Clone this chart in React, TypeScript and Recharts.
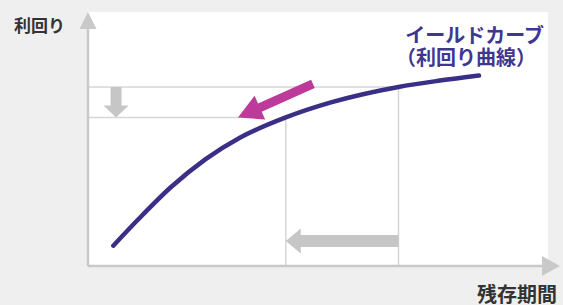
import { CartesianGrid, Line, LineChart, ReferenceLine, XAxis, YAxis } from "recharts";

// yield curve (x: remaining term, y: yield, both 0-100)
const term = [5.5, 11, 18, 25.5, 33, 43, 53, 67.5, 76.5, 85];
const yieldRate = [8, 18.5, 31, 42, 50.5, 58.5, 64.5, 70.5, 73, 75];

// the two marked points on the curve
const shortPoint = { x: 43, y: 58.5 };
const longPoint = { x: 67.5, y: 70.5 };

const data = term.map((t, i) => ({ term: t, rate: yieldRate[i] }));

const AXIS = "#c9c9c9";
const GUIDE = "#d6d6d6";
const CURVE = "#3a2f86";
const PINK = "#bd3a9b";
const FONT = '"Noto Sans CJK JP", "Noto Sans", sans-serif';

function arrow(shaft: number, headLen: number, headW: number, color: string) {
  return (p: any) => {
    const { x1, y1, x2, y2 } = p;
    const len = Math.hypot(x2 - x1, y2 - y1) || 1;
    const ux = (x2 - x1) / len;
    const uy = (y2 - y1) / len;
    const nx = -uy;
    const ny = ux;
    const bx = x2 - ux * headLen;
    const by = y2 - uy * headLen;
    const pts = [
      [x1 + (nx * shaft) / 2, y1 + (ny * shaft) / 2],
      [bx + (nx * shaft) / 2, by + (ny * shaft) / 2],
      [bx + (nx * headW) / 2, by + (ny * headW) / 2],
      [x2, y2],
      [bx - (nx * headW) / 2, by - (ny * headW) / 2],
      [bx - (nx * shaft) / 2, by - (ny * shaft) / 2],
      [x1 - (nx * shaft) / 2, y1 - (ny * shaft) / 2],
    ];
    return <polygon points={pts.map((q) => q.join(",")).join(" ")} fill={color} />;
  };
}

const curveTitle = {
  position: "absolute" as const,
  right: 19,
  fontSize: 20,
  fontWeight: 700,
  color: "#3f3690",
  lineHeight: "21px",
  whiteSpace: "nowrap" as const,
};

export default function App() {
  return (
    <div
      style={{
        position: "absolute",
        left: 0,
        top: 0,
        width: 563,
        height: 305,
        background: "#efefef",
        overflow: "hidden",
        fontFamily: FONT,
      }}
    >
      <LineChart
        width={563}
        height={305}
        data={data}
        margin={{ top: 12, right: 15, bottom: 39, left: 88 }}
      >
        <CartesianGrid fill="#ffffff" stroke="none" horizontal={false} vertical={false} />
        <XAxis type="number" dataKey="term" domain={[0, 100]} hide />
        <YAxis type="number" domain={[0, 100]} hide />

        {/* guide lines */}
        <ReferenceLine
          segment={[{ x: 0, y: longPoint.y }, { x: longPoint.x, y: longPoint.y }]}
          stroke={GUIDE}
          strokeWidth={1.5}
        />
        <ReferenceLine
          segment={[{ x: 0, y: shortPoint.y }, { x: 33, y: shortPoint.y }]}
          stroke={GUIDE}
          strokeWidth={1.5}
        />
        <ReferenceLine
          segment={[{ x: shortPoint.x, y: 0 }, { x: shortPoint.x, y: shortPoint.y }]}
          stroke={GUIDE}
          strokeWidth={1.5}
        />
        <ReferenceLine
          segment={[{ x: longPoint.x, y: 0 }, { x: longPoint.x, y: longPoint.y }]}
          stroke={GUIDE}
          strokeWidth={1.5}
        />

        {/* gray arrows */}
        <ReferenceLine
          segment={[{ x: 6.1, y: longPoint.y }, { x: 6.1, y: shortPoint.y }]}
          shape={arrow(11, 12, 25, "#c6c6c6")}
        />
        <ReferenceLine
          segment={[{ x: longPoint.x, y: 9.8 }, { x: shortPoint.x, y: 9.8 }]}
          shape={arrow(12, 15, 25, "#c6c6c6")}
        />

        {/* axes with arrow heads */}
        <ReferenceLine
          segment={[{ x: 0, y: 0 }, { x: 0, y: 100 }]}
          ifOverflow="visible"
          shape={arrow(2.5, 17, 17, AXIS)}
        />
        <ReferenceLine
          segment={[{ x: 0, y: 0 }, { x: 102.6, y: 0 }]}
          ifOverflow="visible"
          shape={arrow(2.5, 18, 20, AXIS)}
        />

        <Line
          dataKey="rate"
          type="monotone"
          stroke={CURVE}
          strokeWidth={4.5}
          strokeLinecap="round"
          dot={false}
          activeDot={false}
          isAnimationActive={false}
        />

        {/* pink arrow */}
        <ReferenceLine
          segment={[{ x: 48.9, y: 71.7 }, { x: 32.6, y: shortPoint.y }]}
          shape={arrow(9, 24, 26, PINK)}
        />
      </LineChart>

      <div
        style={{
          position: "absolute",
          left: 14,
          top: 13,
          fontSize: 17,
          fontWeight: 700,
          color: "#333",
          lineHeight: "24px",
        }}
      >
        利回り
      </div>
      <div style={{ ...curveTitle, top: 24 }}>イールドカーブ</div>
      <div style={{ ...curveTitle, top: 46, right: 27 }}>（利回り曲線）</div>
      <div
        style={{
          position: "absolute",
          left: 477,
          top: 284,
          fontSize: 20,
          fontWeight: 700,
          color: "#333",
          lineHeight: "20px",
        }}
      >
        残存期間
      </div>
    </div>
  );
}
